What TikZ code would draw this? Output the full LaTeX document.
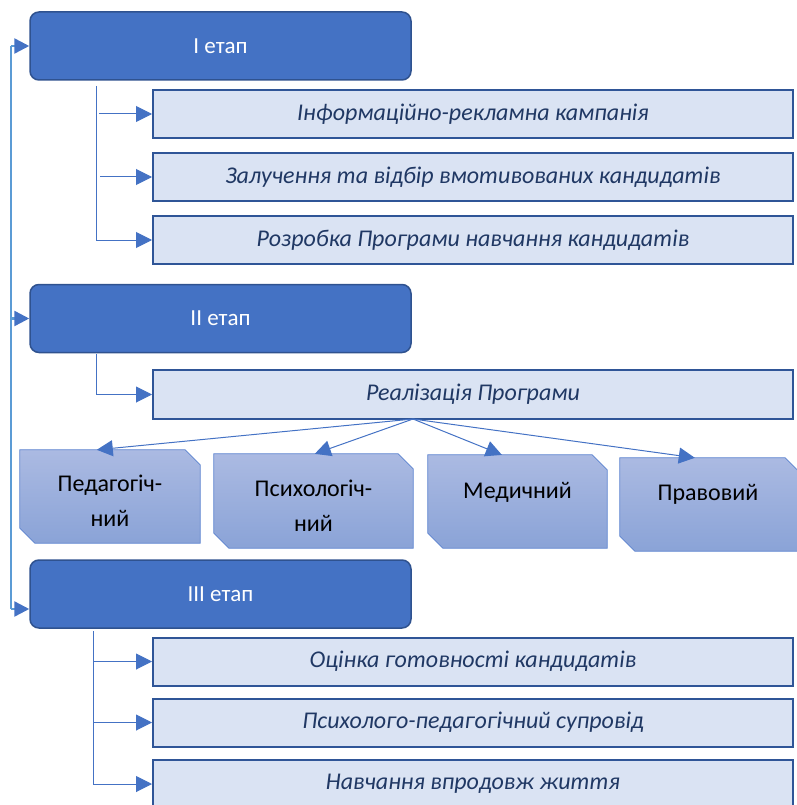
\documentclass[tikz,border=0pt]{standalone}
\usepackage{fontspec}
\setmainfont{Carlito}
\usetikzlibrary{arrows.meta,calc}
\definecolor{stagefill}{HTML}{4472C4}
\definecolor{stageline}{HTML}{2F528F}
\definecolor{subfill}{HTML}{DAE3F3}
\definecolor{subline}{HTML}{2F5597}
\definecolor{subtext}{HTML}{203864}
\definecolor{snipline}{HTML}{5B82CF}
\definecolor{sniptop}{HTML}{ABBAE2}
\definecolor{snipbot}{HTML}{8AA3D7}
\definecolor{conn}{HTML}{4472C4}
\definecolor{sideline}{HTML}{5B9BD5}
\tikzset{
  stagebox/.style={draw=stageline, line width=1.5pt, fill=stagefill, rounded corners=9pt,
    minimum width=381pt, minimum height=68pt, inner sep=0pt, text=white,
    font=\fontsize{23}{26}\selectfont},
  subbox/.style={draw=subline, line width=2pt, fill=subfill, minimum width=640pt,
    minimum height=48pt, inner sep=0pt, text=subtext, font=\fontsize{24}{28}\selectfont\itshape},
  snipbox/.style={rectangle, draw=none, inner sep=0pt},
  snippath/.style={draw=snipline, line width=0.8pt, top color=sniptop, bottom color=snipbot},
  sniptext/.style={align=center, text=black, font=\fontsize{24}{35}\selectfont},
  arr/.style={draw=conn, line width=1pt, -{Triangle[length=16pt,width=16pt]}},
  plain/.style={draw=conn, line width=1pt},
  side/.style={draw=sideline, line width=2.5pt},
  sidearr/.style={draw=sideline, line width=2.5pt, -{Triangle[length=15pt,width=15pt,color=conn,fill=conn]}}
}
\newcommand{\snipshape}[1]{%
  \path[snippath] (#1.north west) -- ($(#1.north east)+(-15,0)$) -- ($(#1.north east)+(0,15)$)
    -- (#1.south east) -- ($(#1.south west)+(15,0)$) -- ($(#1.south west)+(0,-15)$) -- cycle;}
\begin{document}
\begin{tikzpicture}[x=1pt,y=-1pt]
\useasboundingbox (0,0) rectangle (796,805);

% stages
\node[stagebox] (s1) at (220.5,46) {I етап};
\node[stagebox] (s2) at (220.5,318.5) {II етап};
\node[stagebox] (s3) at (220.5,594) {III етап};

% stage I items
\node[subbox] (a1) at (473,114) {Інформаційно-рекламна кампанія};
\node[subbox] (a2) at (473,177) {Залучення та відбір вмотивованих кандидатів};
\node[subbox] (a3) at (473,240) {Розробка Програми навчання кандидатів};

% stage II item
\node[subbox, minimum height=49pt] (b1) at (473,394.5) {Реалізація Програми};

% snipped boxes
\node[snipbox, minimum width=180pt, minimum height=93pt] (p1) at (110,496.5) {};
\node[snipbox, minimum width=199pt, minimum height=94pt] (p2) at (313.5,501) {};
\node[snipbox, minimum width=179pt, minimum height=93pt] (p3) at (517.5,501.5) {};
\node[snipbox, minimum width=180pt, minimum height=93pt] (p4) at (710,504.5) {};
\snipshape{p1}
\snipshape{p2}
\snipshape{p3}
\snipshape{p4}
\node[sniptext] (t1) at (110,500.5) {Педагогіч-\\ний};
\node[sniptext] (t2) at (313.5,506) {Психологіч-\\ний};
\node[sniptext] (t3) at (517.5,492) {Медичний};
\node[sniptext] (t4) at (708,494) {Правовий};

% stage III items
\node[subbox] (c1) at (473,661.5) {Оцінка готовності кандидатів};
\node[subbox] (c2) at (473,722.5) {Психолого-педагогічний супровід};
\node[subbox] (c3) at (473,784) {Навчання впродовж життя};

% side line
\coordinate (l1) at (11,46);
\coordinate (l2) at (11,318.5);
\coordinate (l3) at (11,609);
\draw[side] (l1) -- (l3);
\draw[sidearr] (l1) -- (s1.west);
\draw[sidearr] (l2) -- (s2.west);
\draw[sidearr] (l3) -- (s1.west |- l3);

% stage I connectors
\coordinate (i0) at (96,86);
\coordinate (i3) at (96,240);
\draw[plain] (i0) -- (i3);
\draw[arr] (99,114) -- (a1.west);
\draw[arr] (100,177) -- (a2.west);
\draw[arr] (i3) -- (a3.west);

% stage II connector
\coordinate (j0) at (96,354);
\draw[arr] (j0) |- (b1.west);

% fan-out
\coordinate (src) at (413,419);
\draw[arr] (src) -- ($(p1.north west)+(77,0)$);
\draw[arr] (src) -- ($(p2.north west)+(101,0)$);
\draw[arr] (src) -- ($(p3.north west)+(74,0)$);
\draw[arr] (src) -- ($(p4.north west)+(75,0)$);

% stage III connectors
\coordinate (k0) at (93,631);
\coordinate (k3) at (93,784);
\draw[plain] (k0) -- (k3);
\draw[arr] (94,661.5) -- (c1.west);
\draw[arr] (94,722.5) -- (c2.west);
\draw[arr] (k3) -- (c3.west);
\end{tikzpicture}
\end{document}
